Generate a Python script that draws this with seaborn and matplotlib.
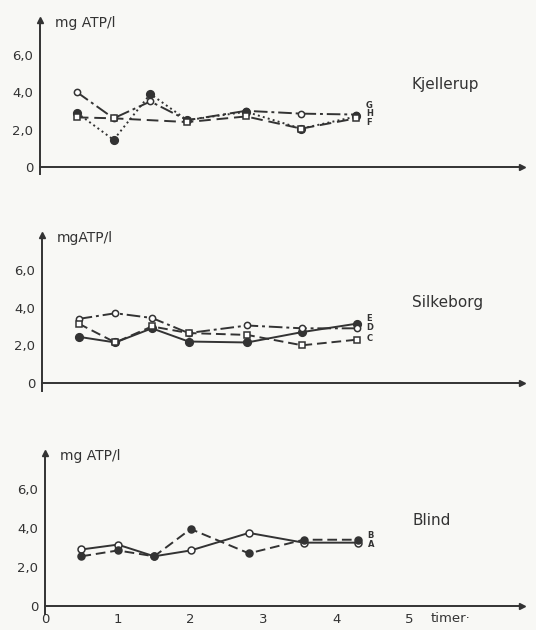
import numpy as np
import pandas as pd
import matplotlib
matplotlib.use('Agg')
import matplotlib.pyplot as plt
import seaborn as sns

sns.set_style('white')
plt.rcParams['font.family'] = ['DejaVu Sans']

# sampling times (timer)
times = [0.5, 1.0, 1.5, 2.0, 2.8, 3.55, 4.3]

# Kjellerup
kj_G = [4.0, 2.6, 3.5, 2.5, 3.0, 2.85, 2.8]
kj_H = [2.9, 1.45, 3.9, 2.5, 2.95, 2.05, 2.7]
kj_F_times = [0.5, 1.0, 2.0, 2.8, 3.55, 4.3]
kj_F = [2.65, 2.6, 2.4, 2.7, 2.05, 2.6]

# Silkeborg
si_E = [2.45, 2.15, 2.9, 2.2, 2.15, 2.7, 3.15]
si_D = [3.4, 3.7, 3.45, 2.65, 3.05, 2.9, 2.9]
si_C = [3.15, 2.15, 3.0, 2.65, 2.55, 2.0, 2.3]

# Blind
bl_A = [2.9, 3.15, 2.55, 2.85, 3.75, 3.25, 3.25]
bl_B = [2.55, 2.85, 2.55, 3.95, 2.7, 3.4, 3.4]

ink = '#333333'
paper = '#f8f8f5'

fig = plt.figure(figsize=(5.36, 6.3), dpi=100, facecolor=paper)

def make_axes(left_px, zero_px, top_px):
    W, H = 536, 630
    right_px = 522
    ax = fig.add_axes([left_px / W, 1 - zero_px / H, (right_px - left_px) / W, (zero_px - top_px) / H])
    ax.set_facecolor(paper)
    return ax

def style_axes(ax, ylabel, station, station_y, bottom=False):
    ax.set_xlim(0, 6.55)
    ax.set_ylim(0, 7.85)
    for s in ['top', 'right']:
        ax.spines[s].set_visible(False)
    for s in ['left', 'bottom']:
        ax.spines[s].set_color(ink)
        ax.spines[s].set_linewidth(1.4)
    ax.spines['left'].set_bounds(-0.4, 7.85)
    ax.plot(1, 0, '>', color=ink, ms=5, transform=ax.get_yaxis_transform(), clip_on=False)
    ax.plot(0, 1, '^', color=ink, ms=5, transform=ax.get_xaxis_transform(), clip_on=False)
    ax.set_yticks([0, 2, 4, 6])
    ax.set_yticklabels(['0', '2,0', '4,0', '6,0'])
    if bottom:
        ax.set_xticks([0, 1, 2, 3, 4, 5])
        ax.set_xticklabels(['0', '1', '2', '3', '4', '5'])
        ax.text(5.3, -0.3, 'timer·', fontsize=9.5, color=ink, va='top', ha='left')
    else:
        ax.set_xticks([1, 2, 3, 4, 5])
        ax.set_xticklabels([])
    ax.tick_params(axis='both', direction='inout', length=6, width=1.2, color=ink,
                   labelcolor=ink, labelsize=9.5, pad=2)
    ax.set_xlabel('')
    ax.set_ylabel('')
    ax.text(0.2, 7.7, ylabel, fontsize=10, color=ink, va='center', ha='left')
    ax.text(5.05, station_y, station, fontsize=11, color=ink, va='center', ha='left')

def draw(ax, x, y, ls, marker, filled, ms=5):
    sns.lineplot(x=x, y=y, ax=ax, color=ink, linestyle=ls, linewidth=1.4, marker=marker,
                 markersize=ms, markerfacecolor=ink if filled else 'white',
                 markeredgecolor=ink, markeredgewidth=1.1)

def end_labels(ax, labels, ys):
    for lab, yy in zip(labels, ys):
        ax.text(4.43, yy, lab, fontsize=6, color=ink, va='center', ha='left', fontweight='bold')

# Kjellerup
ax1 = make_axes(40, 167, 20)
draw(ax1, times, kj_G, (0, (7, 2, 1.5, 2)), 'o', False, 4.5)
draw(ax1, times, kj_H, ':', 'o', True, 5.5)
draw(ax1, kj_F_times, kj_F, (0, (6, 3)), 's', False, 4.5)
style_axes(ax1, 'mg ATP/l', 'Kjellerup', 4.4)
end_labels(ax1, ['G', 'H', 'F'], [3.3, 2.85, 2.35])

# Silkeborg
ax2 = make_axes(42, 383, 235)
draw(ax2, times, si_E, '-', 'o', True, 5.5)
draw(ax2, times, si_D, (0, (7, 2, 1.5, 2)), 'o', False, 4.5)
draw(ax2, times, si_C, (0, (5, 2.5)), 's', False, 4.5)
style_axes(ax2, 'mgATP/l', 'Silkeborg', 4.25)
end_labels(ax2, ['E', 'D', 'C'], [3.4, 2.95, 2.35])

# Blind
ax3 = make_axes(45, 606, 453)
draw(ax3, times, bl_A, '-', 'o', False, 5)
draw(ax3, times, bl_B, (0, (5, 2.5)), 'o', True, 5)
style_axes(ax3, 'mg ATP/l', 'Blind', 4.4, bottom=True)
end_labels(ax3, ['B', 'A'], [3.6, 3.15])

fig.savefig('out.png', dpi=100, facecolor=paper)
